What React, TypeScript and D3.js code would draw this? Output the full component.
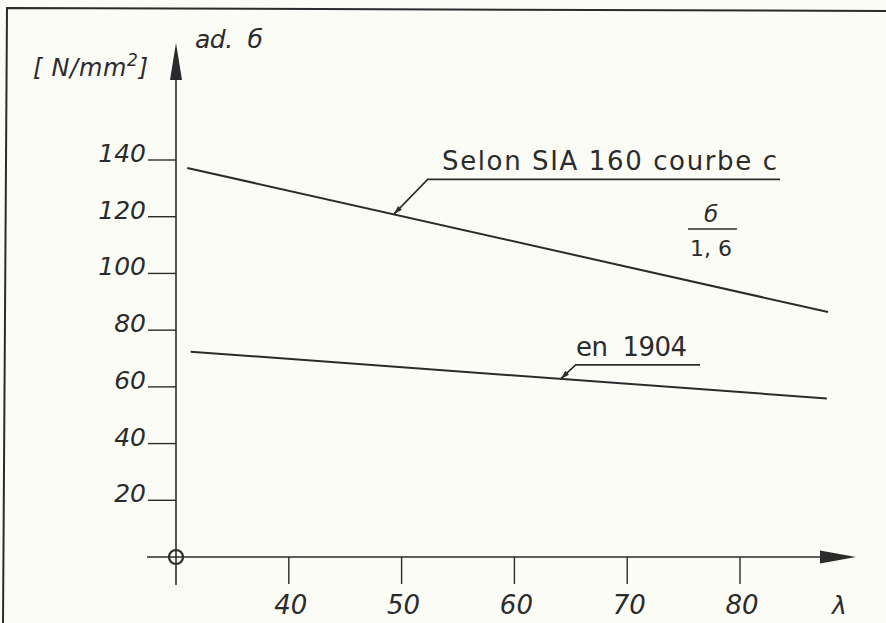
import { useEffect, useRef } from "react";
import * as d3 from "d3";

// slenderness values and admissible stress
const xTicks = [40, 50, 60, 70, 80];
const yTicks = [20, 40, 60, 80, 100, 120, 140];

const siaCurve = [
  { lambda: 31.0, stress: 137.2 },
  { lambda: 87.8, stress: 86.4 },
];

const curve1904 = [
  { lambda: 31.3, stress: 72.4 },
  { lambda: 87.7, stress: 55.9 },
];

const labels = [
  { text: "Selon SIA 160 courbe c", at: 49.3, series: siaCurve, dx: 34, dy: -35, lineTo: 780, textX: 442, width: 335 },
  { text: "en  1904", at: 64.1, series: curve1904, dx: 15, dy: -14, lineTo: 700, textX: 576, width: 111 },
];

const FONT = "'DejaVu Sans', 'Liberation Sans', sans-serif";
const INK = "#2b2b2b";

export default function App() {
  const svgRef = useRef<SVGSVGElement | null>(null);

  useEffect(() => {
    const width = 886;
    const height = 623;

    const svg = d3.select(svgRef.current).attr("width", width).attr("height", height);
    svg.selectAll("*").remove();

    svg.append("rect").attr("width", width).attr("height", height).attr("fill", "#fcfcf7");

    // scanned sheet frame
    svg.append("path")
      .attr("d", "M3,623 L7,8 L886,11")
      .attr("fill", "none")
      .attr("stroke", INK)
      .attr("stroke-width", 2);

    const x = d3.scaleLinear().domain([30, 80]).range([176, 740]);
    const y = d3.scaleLinear().domain([0, 140]).range([557, 160]);

    const x0 = x(30);
    const y0 = y(0);

    const axes = svg.append("g").attr("stroke", INK).attr("fill", INK);

    // y axis with arrow
    axes.append("line").attr("x1", x0).attr("x2", x0).attr("y1", y0 + 28).attr("y2", 78).attr("stroke-width", 1.6);
    axes.append("path").attr("d", `M${x0},43 L${x0 - 6},80 L${x0 + 6},80 Z`).attr("stroke", "none");

    // x axis with arrow
    axes.append("line").attr("x1", 147).attr("x2", 822).attr("y1", y0).attr("y2", y0).attr("stroke-width", 1.6);
    axes.append("path").attr("d", `M856,${y0} L820,${y0 - 6.5} L820,${y0 + 6.5} Z`).attr("stroke", "none");

    // origin marker
    axes.append("circle").attr("cx", x0).attr("cy", y0).attr("r", 7).attr("fill", "none").attr("stroke-width", 2.2);

    // y ticks + labels
    const yt = svg.append("g");
    yt.selectAll("line").data(yTicks).join("line")
      .attr("x1", 148).attr("x2", x0)
      .attr("y1", d => y(d)).attr("y2", d => y(d))
      .attr("stroke", INK).attr("stroke-width", 1.4);
    yt.selectAll("text").data(yTicks).join("text")
      .attr("x", 146).attr("y", d => y(d) + 2)
      .attr("text-anchor", "end")
      .style("font-family", FONT).style("font-style", "italic").style("font-size", "25px")
      .attr("fill", INK)
      .text(d => d);

    // x ticks + labels
    const xt = svg.append("g");
    xt.selectAll("line").data(xTicks).join("line")
      .attr("x1", d => x(d)).attr("x2", d => x(d))
      .attr("y1", y0).attr("y2", y0 + 27)
      .attr("stroke", INK).attr("stroke-width", 1.4);
    xt.selectAll("text").data(xTicks).join("text")
      .attr("x", d => x(d) + 2).attr("y", 614)
      .attr("text-anchor", "middle")
      .style("font-family", FONT).style("font-style", "italic").style("font-size", "26px")
      .attr("fill", INK)
      .text(d => d);

    // axis titles
    const title = svg.append("text").attr("x", 33).attr("y", 76)
      .attr("textLength", 115).attr("lengthAdjust", "spacing")
      .style("font-family", FONT).style("font-style", "italic").style("font-size", "24px").attr("fill", INK);
    title.append("tspan").text("[ N/mm");
    title.append("tspan").attr("dy", -10).style("font-size", "17px").text("2");
    title.append("tspan").attr("dy", 10).text("]");

    svg.append("text").attr("x", 195).attr("y", 48)
      .attr("textLength", 68).attr("lengthAdjust", "spacing")
      .style("font-family", FONT).style("font-style", "italic").style("font-size", "25px").attr("fill", INK)
      .style("white-space", "pre")
      .text("ad.  б");

    svg.append("text").attr("x", 832).attr("y", 614)
      .style("font-family", FONT).style("font-style", "italic").style("font-size", "25px").attr("fill", INK)
      .text("λ");

    // curves
    const line = d3.line<{ lambda: number; stress: number }>()
      .x(d => x(d.lambda))
      .y(d => y(d.stress));

    svg.selectAll(".curve").data([siaCurve, curve1904]).join("path")
      .attr("class", "curve")
      .attr("d", line)
      .attr("fill", "none")
      .attr("stroke", INK)
      .attr("stroke-width", 2);

    // leader annotations
    labels.forEach(l => {
      const [a, b] = l.series;
      const t = (l.at - a.lambda) / (b.lambda - a.lambda);
      const px = x(l.at);
      const py = y(a.stress + t * (b.stress - a.stress));
      const ex = px + l.dx;
      const ey = py + l.dy;

      svg.append("path")
        .attr("d", `M${px},${py} L${ex},${ey} L${l.lineTo},${ey}`)
        .attr("fill", "none").attr("stroke", INK).attr("stroke-width", 1.6);

      const ang = Math.atan2(ey - py, ex - px);
      const len = 9, half = 2.6;
      const bx = px + Math.cos(ang) * len, by = py + Math.sin(ang) * len;
      const nx = -Math.sin(ang) * half, ny = Math.cos(ang) * half;
      svg.append("path")
        .attr("d", `M${px},${py} L${bx + nx},${by + ny} L${bx - nx},${by - ny} Z`)
        .attr("fill", INK);

      svg.append("text")
        .attr("x", l.textX).attr("y", ey - 9)
        .attr("textLength", l.width).attr("lengthAdjust", "spacing")
        .style("font-family", FONT).style("font-size", "26px").attr("fill", INK)
        .style("white-space", "pre")
        .text(l.text);
    });

    // sigma / 1,6 fraction
    svg.append("text").attr("x", 711).attr("y", 222).attr("text-anchor", "middle")
      .style("font-family", FONT).style("font-style", "italic").style("font-size", "23px").attr("fill", INK)
      .text("б");
    svg.append("line").attr("x1", 688).attr("x2", 737).attr("y1", 229).attr("y2", 229)
      .attr("stroke", INK).attr("stroke-width", 1.6);
    svg.append("text").attr("x", 711).attr("y", 256).attr("text-anchor", "middle")
      .style("font-family", FONT).style("font-size", "22px").attr("fill", INK)
      .style("white-space", "pre")
      .text("1, 6");
  }, []);

  return (
    <svg ref={svgRef} style={{ position: "absolute", left: 0, top: 0, display: "block" }}></svg>
  );
}
